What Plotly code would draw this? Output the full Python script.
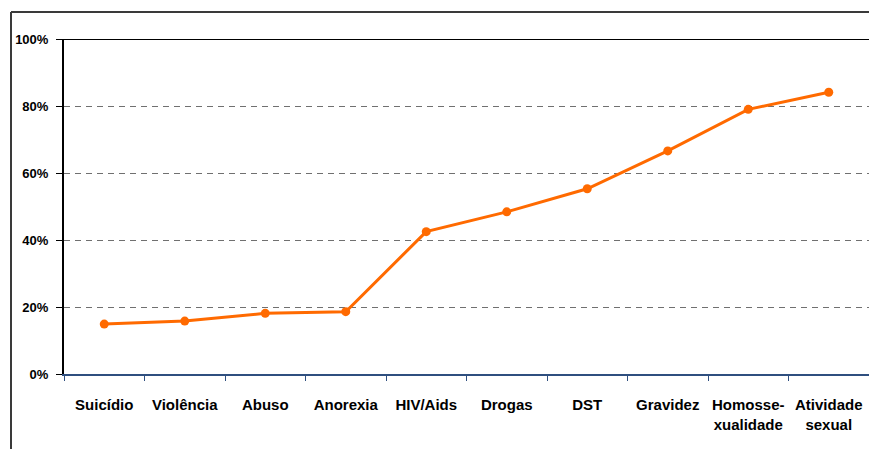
import plotly.graph_objects as go

categories = ["Suicídio", "Violência", "Abuso", "Anorexia", "HIV/Aids",
              "Drogas", "DST", "Gravidez", "Homosse-<br>xualidade", "Atividade<br>sexual"]
values = [14.9, 15.8, 18.1, 18.6, 42.5, 48.4, 55.3, 66.6, 79.0, 84.1]
y_ticks = [0, 20, 40, 60, 80, 100]
y_tick_labels = ["0%", "20%", "40%", "60%", "80%", "100%"]

FONT = "Liberation Sans, Arial, sans-serif"

fig = go.Figure()
fig.add_trace(go.Scatter(
    x=categories, y=values, mode="lines+markers",
    line=dict(color="#FF6A00", width=3),
    marker=dict(color="#FF6A00", size=9),
    showlegend=False, cliponaxis=False,
))

W, H = 869, 449
ml, mr, mt, mb = 64, 0, 39, 75
pw, ph = W - ml - mr, H - mt - mb

def px_x(x):
    return (x - ml) / pw

def px_y(y):
    return (H - mb - y) / ph

shapes = [
    # outer frame (top and left)
    dict(type="line", xref="paper", yref="paper", x0=px_x(11), x1=px_x(880),
         y0=px_y(12), y1=px_y(12), line=dict(color="#3a3a3a", width=2)),
    dict(type="line", xref="paper", yref="paper", x0=px_x(11), x1=px_x(11),
         y0=px_y(12), y1=px_y(460), line=dict(color="#3a3a3a", width=2)),
    # top solid line at 100%
    dict(type="line", xref="paper", yref="y", x0=0, x1=1, y0=100, y1=100,
         line=dict(color="#000000", width=2)),
]

fig.update_layout(
    width=W, height=H,
    margin=dict(l=ml, r=mr, t=mt, b=mb, autoexpand=False),
    paper_bgcolor="white", plot_bgcolor="white",
    font=dict(family=FONT, size=14, color="#000000"),
    shapes=shapes,
    xaxis=dict(
        type="category", range=[-0.5, 9.5], automargin=False, tickangle=0,
        showline=True, linecolor="#2F4F7F", linewidth=2,
        ticks="outside", tickson="boundaries", ticklen=5, tickcolor="#2F4F7F", tickwidth=1,
        showgrid=False,
        tickfont=dict(family=FONT, size=15, color="#000000", weight="bold"),
        ticklabelstandoff=16,
    ),
    yaxis=dict(
        range=[0, 100], tickvals=y_ticks, ticktext=y_tick_labels, automargin=False,
        showline=True, linecolor="#000000", linewidth=2,
        ticks="outside", ticklen=6, tickcolor="#000000", tickwidth=1,
        showgrid=True, gridcolor="#707070", gridwidth=1, griddash="6px,5px",
        zeroline=False,
        tickfont=dict(family=FONT, size=13, color="#000000", weight="bold"),
        ticklabelstandoff=5,
    ),
)

fig.write_html(
    "out.html",
    config={"displayModeBar": False},
    post_script="document.body.style.margin='0px';document.body.style.overflow='hidden';",
)
